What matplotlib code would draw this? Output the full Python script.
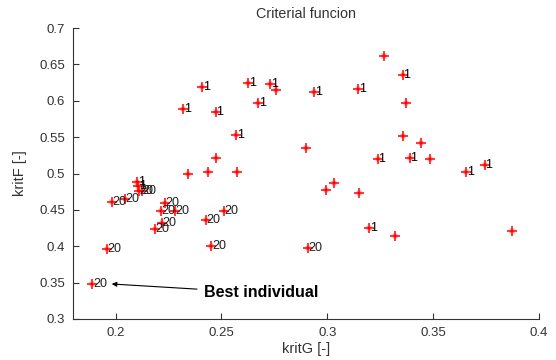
import matplotlib
matplotlib.use("Agg")
import matplotlib.pyplot as plt

plt.rcParams['font.family'] = ['Liberation Sans', 'DejaVu Sans']

# Generation 1 individuals
g1_x = [0.2409, 0.2626, 0.2730, 0.2938, 0.3147, 0.2319, 0.2473, 0.2674, 0.2570,
        0.3357, 0.3238, 0.3389, 0.3657, 0.3744, 0.3199, 0.2101, 0.2107]
g1_y = [0.6193, 0.6248, 0.6226, 0.6116, 0.6162, 0.5882, 0.5845, 0.5965, 0.5529,
        0.6354, 0.5195, 0.5217, 0.5025, 0.5117, 0.4255, 0.4883, 0.4828]

# Intermediate individuals (no label)
mid_x = [0.2757, 0.2899, 0.2475, 0.2343, 0.2436, 0.2573, 0.3270, 0.3373, 0.3360,
         0.3444, 0.3487, 0.3033, 0.2994, 0.3152, 0.3321, 0.3873]
mid_y = [0.6148, 0.5346, 0.5217, 0.4989, 0.5017, 0.5017, 0.6615, 0.5973, 0.5515,
         0.5415, 0.5195, 0.4865, 0.4773, 0.4728, 0.4141, 0.4206]

# Generation 20 individuals
g20_x = [0.1982, 0.2043, 0.2232, 0.2212, 0.2280, 0.2512, 0.2425, 0.2217, 0.2185,
         0.2452, 0.1957, 0.2907, 0.1890, 0.2109, 0.2123]
g20_y = [0.4615, 0.4643, 0.4590, 0.4489, 0.4489, 0.4489, 0.4361, 0.4315, 0.4237,
         0.4003, 0.3958, 0.3969, 0.3478, 0.4766, 0.4753]

xticks = [0.2, 0.25, 0.3, 0.35, 0.4]
yticks = [0.3, 0.35, 0.4, 0.45, 0.5, 0.55, 0.6, 0.65, 0.7]

fig = plt.figure(figsize=(5.56, 3.6), dpi=100)
ax = fig.add_axes([0.132, 0.114, 0.837, 0.808])

all_x = g1_x + mid_x + g20_x
all_y = g1_y + mid_y + g20_y
ax.plot(all_x, all_y, linestyle='none', marker='x', color='#ff9a9a',
        markersize=3.5, markeredgewidth=1.5)
ax.plot(all_x, all_y, linestyle='none', marker='+', color='#ff0000',
        markersize=7, markeredgewidth=1.1)

for x, y in zip(g1_x, g1_y):
    ax.annotate('1', (x, y), xytext=(0.5, 0), textcoords='offset points',
                fontsize=9, color='black', va='center', ha='left')
for x, y in zip(g20_x, g20_y):
    ax.annotate('20', (x, y), xytext=(0.5, 0), textcoords='offset points',
                fontsize=9, color='#202020', va='center', ha='left')

ax.annotate('Best individual', xy=(0.1981, 0.3481), xytext=(0.2417, 0.3357),
            fontsize=11.5, fontweight='bold', va='center', ha='left',
            arrowprops=dict(arrowstyle='-|>', color='black', lw=0.8,
                            mutation_scale=7, shrinkA=3, shrinkB=0))

ax.set_xlim(0.18, 0.4)
ax.set_ylim(0.3, 0.7)
ax.set_xticks(xticks)
ax.set_xticklabels([f'{t:g}' for t in xticks])
ax.set_yticks(yticks)
ax.set_yticklabels([f'{t:g}' for t in yticks])
ax.tick_params(direction='in', length=4, labelsize=9.5, colors='#333333',
               labelcolor='#333333', pad=6)
for s in ['top', 'right']:
    ax.spines[s].set_visible(False)
for s in ['left', 'bottom']:
    ax.spines[s].set_color('#333333')
    ax.spines[s].set_linewidth(0.8)

ax.set_xlabel('kritG [-]', fontsize=10.5, color='#333333', labelpad=2)
ax.set_ylabel('kritF [-]', fontsize=10.5, color='#333333', labelpad=9)
ax.set_title('Criterial funcion', fontsize=10.3, color='#333333', pad=7)

fig.savefig('out.png', dpi=100)
